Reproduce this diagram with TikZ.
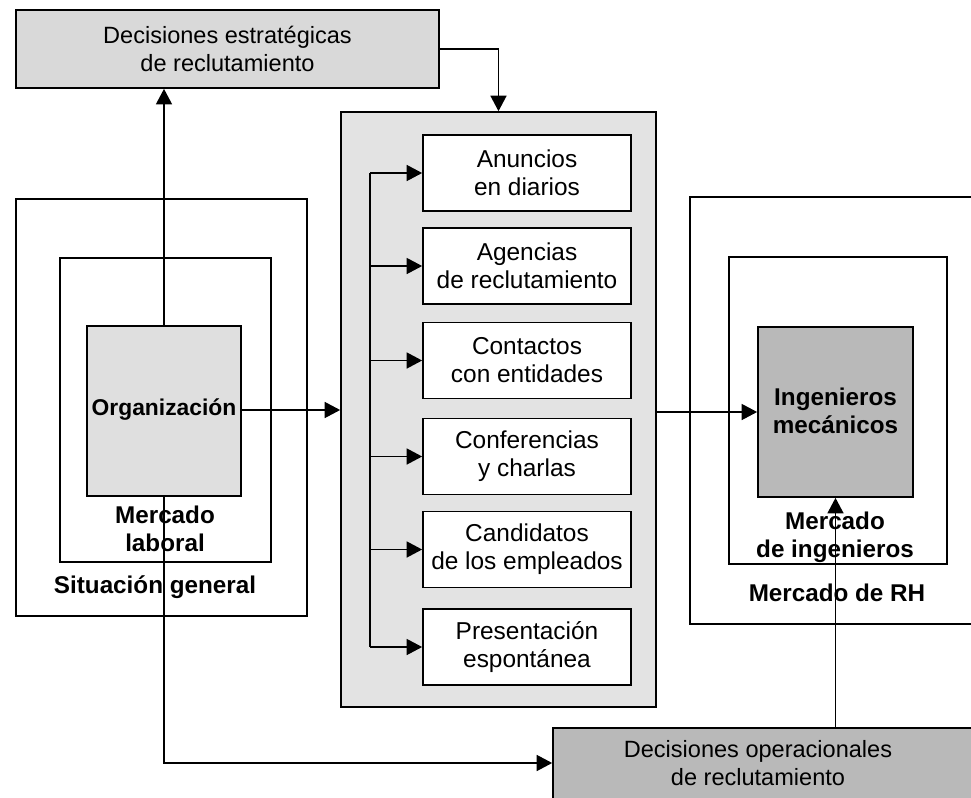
\documentclass[tikz,border=0pt]{standalone}
\usepackage{fontspec}
\setmainfont{Liberation Sans}
\usetikzlibrary{arrows.meta}
\begin{document}
\begin{tikzpicture}[x=0.02cm,y=-0.02cm,
  box/.style={draw, line width=1pt, inner sep=0pt, align=center},
  arr/.style={-{Triangle[length=0.31cm,width=0.32cm]}, line width=0.9pt},
  txt/.style={font=\fontsize{13.4}{16}\selectfont, align=center},
  stxt/.style={font=\fontsize{13.9}{16}\selectfont, align=center},
  lbl/.style={font=\bfseries\fontsize{13.8}{16}\selectfont, align=center},
  srcbox/.style={box, fill=white, minimum width=4.16cm, minimum height=1.52cm, stxt}]
\useasboundingbox (0,0) rectangle (971,798);
\clip (0,0) rectangle (971,798);

% top box
\node[box, fill=gray!30, minimum width=8.46cm, minimum height=1.56cm, txt] (top) at (227.5,49)
  {Decisiones estratégicas\\de reclutamiento};

% left nested boxes
\node[box, minimum width=5.82cm, minimum height=8.34cm] (sitg) at (161.5,407.5) {};
\node[box, minimum width=4.22cm, minimum height=6.08cm] (mlab) at (165.5,410) {};
\node[box, fill=gray!25, minimum width=3.08cm, minimum height=3.4cm] (org) at (164,411) {};
\node[lbl, font=\bfseries\fontsize{13}{15}\selectfont] (orgt) at (164,410) {Organización};

% center box
\node[box, fill=gray!22, minimum width=6.3cm, minimum height=11.9cm] (cen) at (498.5,409.5) {};
\node[srcbox] (s1) at (527,173) {Anuncios\\en diarios};
\node[srcbox] (s2) at (527,266) {Agencias\\de reclutamiento};
\node[srcbox] (s3) at (527,360.5) {Contactos\\con entidades};
\node[srcbox] (s4) at (527,456.5) {Conferencias\\y charlas};
\node[srcbox] (s5) at (527,549.5) {Candidatos\\de los empleados};
\node[srcbox] (s6) at (527,647) {Presentación\\espontánea};
\coordinate (bx) at (370,0);

% right nested boxes
\node[box, minimum width=8.2cm, minimum height=8.54cm] (mrh) at (895,410.5) {};
\node[box, minimum width=4.36cm, minimum height=6.14cm] (ming) at (838,410.5) {};
\node[box, fill=gray!55, minimum width=3.1cm, minimum height=3.4cm] (ing) at (835.5,412) {};
\node[lbl] (ingt) at (835.5,411) {Ingenieros\\mecánicos};

% bottom box
\node[box, fill=gray!55, minimum width=10.94cm, minimum height=2.44cm] (op) at (826.5,789) {};
\node[txt] (opt) at (758,763) {Decisiones operacionales\\de reclutamiento};

% connectors
\draw[arr] (org.north) -- (org.north |- top.south);
\draw[arr] (top.east) -| (cen.north);
\draw[arr] (org.east |- orgt) -- (orgt -| cen.west);
\draw[line width=0.9pt] (s1.west -| bx) -- (s6.west -| bx);
\foreach \s in {s1,s2,s3,s4,s5,s6}{
  \draw[arr] (\s.west -| bx) -- (\s.west);
}
\draw[arr] (ing.west -| cen.east) -- (ing.west);
\draw[arr] (org.south) |- (op.west |- opt);
\draw[arr] (op.north -| ing.south) -- (ing.south);

% labels
\node[lbl] (mlabt) at (165,529) {Mercado\\laboral};
\node[lbl] (sitgt) at (155,587) {Situación general};
\node[lbl] (mingt) at (835,537) {Mercado\\de ingenieros};
\node[lbl] (mrht) at (837,593) {Mercado de RH};
\end{tikzpicture}
\end{document}
